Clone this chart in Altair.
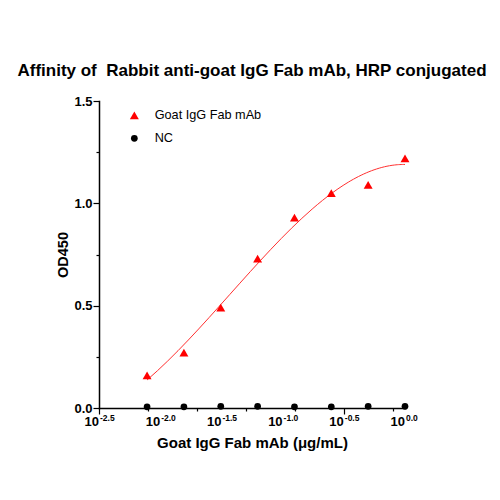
import altair as alt
import pandas as pd

# Data
conc = [0.0078125, 0.015625, 0.03125, 0.0625, 0.125, 0.25, 0.5, 1.0]
od_goat = [0.16, 0.27, 0.49, 0.73, 0.93, 1.05, 1.09, 1.22]
od_nc = [0.006, 0.006, 0.008, 0.008, 0.006, 0.006, 0.008, 0.008]
series_names = ["Goat IgG Fab mAb", "NC"]

x_major = [-2.5, -2.0, -1.5, -1.0, -0.5, 0.0]
x_major_exp = ["-2.5", "-2.0", "-1.5", "-1.0", "-0.5", "0.0"]
x_ticks = [round(-2.5 + 0.05 * i, 2) for i in range(51)]
y_ticks = [0, 0.25, 0.5, 0.75, 1.0, 1.25, 1.5]

FONT = "Liberation Sans"
W, H = 306, 307

df = pd.DataFrame({
    "conc": conc + conc,
    "od": od_goat + od_nc,
    "series": [series_names[0]] * len(conc) + [series_names[1]] * len(conc),
})
labels_df = pd.DataFrame({"lx": x_major, "exp": x_major_exp, "base": ["10"] * len(x_major)})

xscale = alt.Scale(domain=[-2.5, 0], nice=False, zero=False)
yscale = alt.Scale(domain=[0, 1.5], nice=False, zero=True)

major_test = "abs(datum.value*2 - round(datum.value*2)) < 0.001"

x_axis = alt.Axis(
    values=x_ticks, labels=False, grid=False, domainColor="black", domainWidth=1.5,
    tickColor="black", tickWidth=1.2,
    tickSize={"condition": {"test": major_test, "value": 6}, "value": 3},
    title="Goat IgG Fab mAb (μg/mL)", titleFont=FONT, titleFontSize=15,
    titleFontWeight="bold", titleColor="black", titlePadding=21,
)
y_axis = alt.Axis(
    values=y_ticks, grid=False, domainColor="black", domainWidth=1.5,
    tickColor="black", tickWidth=1.2,
    tickSize={"condition": {"test": major_test, "value": 6}, "value": 3},
    labelExpr=f"({major_test}) ? format(datum.value, '.1f') : ''",
    labelFont=FONT, labelFontSize=13, labelFontWeight="bold", labelColor="black",
    labelPadding=1,
    title="OD450", titleFont=FONT, titleFontSize=14.5, titleFontWeight="bold",
    titleColor="black", titlePadding=3,
)

base = alt.Chart(df).transform_calculate(logx="log(datum.conc)/LN10")

curve = base.transform_filter(
    alt.datum.series == series_names[0]
).transform_regression(
    "logx", "od", method="poly", order=3
).mark_line(color="#ff3030", strokeWidth=1).encode(
    x=alt.X("logx:Q", scale=xscale, axis=x_axis),
    y=alt.Y("od:Q", scale=yscale, axis=y_axis),
)

points = base.mark_point(filled=True, opacity=1).encode(
    x=alt.X("logx:Q", scale=xscale, axis=x_axis),
    y=alt.Y("od:Q", scale=yscale, axis=y_axis),
    color=alt.Color("series:N", scale=alt.Scale(domain=series_names, range=["#ff0000", "#000000"]),
                    legend=alt.Legend(orient="none", legendX=29, legendY=8, title=None,
                                      labelFont=FONT, labelFontSize=12.7, labelColor="black",
                                      symbolSize=70, rowPadding=9, labelOffset=14,
                                      symbolStrokeWidth=0)),
    shape=alt.Shape("series:N", scale=alt.Scale(domain=series_names, range=["triangle-up", "circle"])),
    size=alt.Size("series:N", scale=alt.Scale(domain=series_names, range=[80, 45]), legend=None),
)

tick_base = alt.Chart(labels_df).mark_text(
    font=FONT, fontSize=13, fontWeight="bold", color="black", align="right", baseline="middle"
).encode(x=alt.X("lx:Q", scale=xscale), y=alt.value(H + 14), text="base:N")

tick_exp = alt.Chart(labels_df).mark_text(
    font=FONT, fontSize=8.5, fontWeight="bold", color="black", align="left", baseline="middle", dx=1
).encode(x=alt.X("lx:Q", scale=xscale), y=alt.value(H + 10), text="exp:N")

chart = alt.layer(curve, points, tick_base, tick_exp).properties(
    width=W, height=H,
    title=alt.TitleParams(
        "Affinity of\u00a0 Rabbit anti-goat IgG Fab mAb, HRP conjugated",
        font=FONT, fontSize=17, fontWeight="bold", color="black", anchor="middle", offset=15,
    ),
    autosize=alt.AutoSizeParams(type="none"),
    padding={"left": 91, "top": 93, "right": 86, "bottom": 84},
).configure_view(stroke=None).configure_axis(domainCap="square")

chart.save("out.html", embed_options={"renderer": "svg", "actions": False})
